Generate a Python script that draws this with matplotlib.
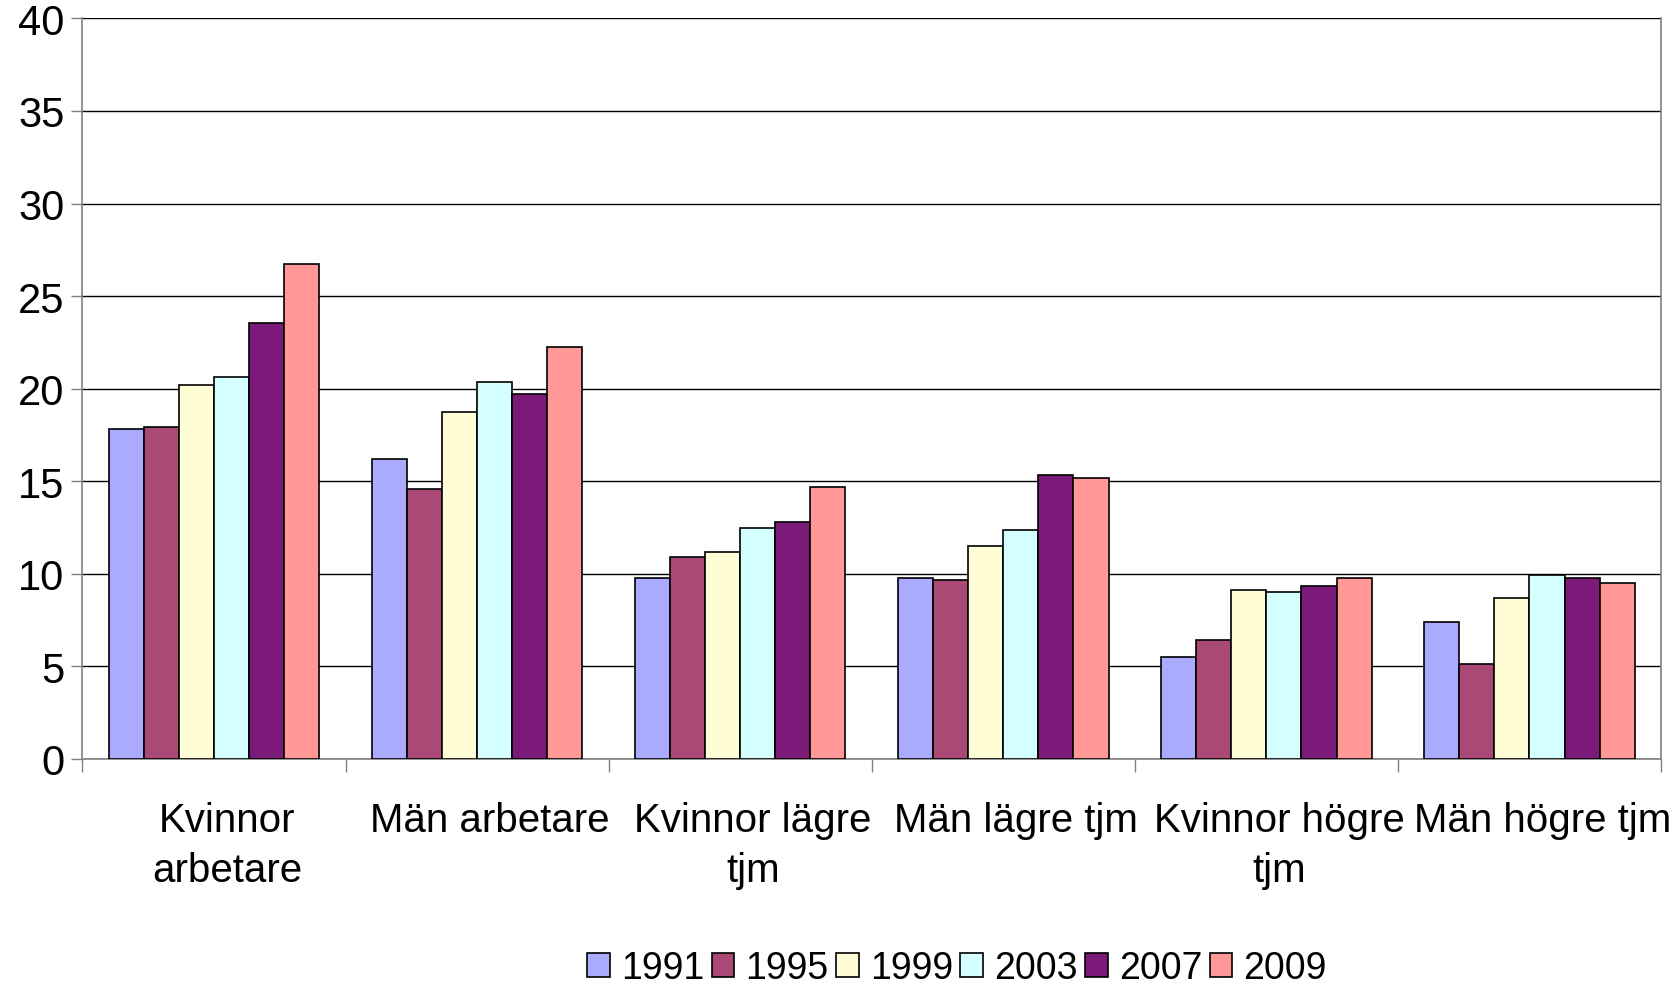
import numpy as np
import matplotlib
matplotlib.use("Agg")
import matplotlib.pyplot as plt
from matplotlib.patches import Patch
from matplotlib.transforms import ScaledTranslation

plt.rcParams['font.family'] = ['Liberation Sans', 'DejaVu Sans']

categories = ["Kvinnor\narbetare", "Män arbetare", "Kvinnor lägre\ntjm",
              "Män lägre tjm", "Kvinnor högre\ntjm", "Män högre tjm"]
years = ["1991", "1995", "1999", "2003", "2007", "2009"]
colors = ['#AAAAFF', '#AA4976', '#FFFDD5', '#D4FFFF', '#7B1A78', '#FF9896']

v1991 = [17.8, 16.2, 9.8, 9.8, 5.5, 7.4]
v1995 = [17.95, 14.6, 10.9, 9.65, 6.45, 5.15]
v1999 = [20.2, 18.75, 11.2, 11.5, 9.15, 8.7]
v2003 = [20.65, 20.35, 12.5, 12.35, 9.0, 9.95]
v2007 = [23.55, 19.7, 12.8, 15.35, 9.35, 9.8]
v2009 = [26.75, 22.25, 14.7, 15.2, 9.8, 9.5]
series = [v1991, v1995, v1999, v2003, v2007, v2009]

fig = plt.figure(figsize=(16.79, 9.87), dpi=100)
ax = fig.add_axes([0.0491, 0.2300, 0.9402, 0.7504])

x = np.arange(len(categories))
w = 0.8 / len(series)
for i, vals in enumerate(series):
    ax.bar(x - 0.4 + w * (i + 0.5), vals, width=w, color=colors[i],
           edgecolor='black', linewidth=1.2, label=years[i], zorder=3)

ax.set_xlim(-0.5, len(categories) - 0.5)
ax.set_ylim(0, 40)
ax.set_yticks(range(0, 41, 5))
ax.tick_params(axis='y', labelsize=30, length=8, width=1, color='#808080', pad=5)
ax.grid(axis='y', color='black', linewidth=1.0, zorder=0)

ax.set_xticks(x)
ax.set_xticklabels(categories, fontsize=29, linespacing=1.4)
ax.tick_params(axis='x', which='major', length=0, pad=30)
shift = ScaledTranslation(0.13, 0, fig.dpi_scale_trans)
for lab in ax.get_xticklabels():
    lab.set_transform(lab.get_transform() + shift)
ax.set_xticks(np.arange(-0.5, len(categories)), minor=True)
ax.tick_params(axis='x', which='minor', length=9, width=1, color='#808080')

for s in ['left', 'bottom', 'right']:
    ax.spines[s].set_color('#808080')
    ax.spines[s].set_linewidth(1.2)
ax.spines['top'].set_visible(False)

handles = [Patch(facecolor=c, edgecolor='black', linewidth=1.2) for c in colors]
fig.legend(handles, years, loc='center', bbox_to_anchor=(0.57, 0.018), ncol=6,
           frameon=False, fontsize=27,
           handlelength=0.6, handleheight=0.6,
           handletextpad=0.3, columnspacing=0.2, borderpad=0)

fig.savefig("out.png", dpi=100)
